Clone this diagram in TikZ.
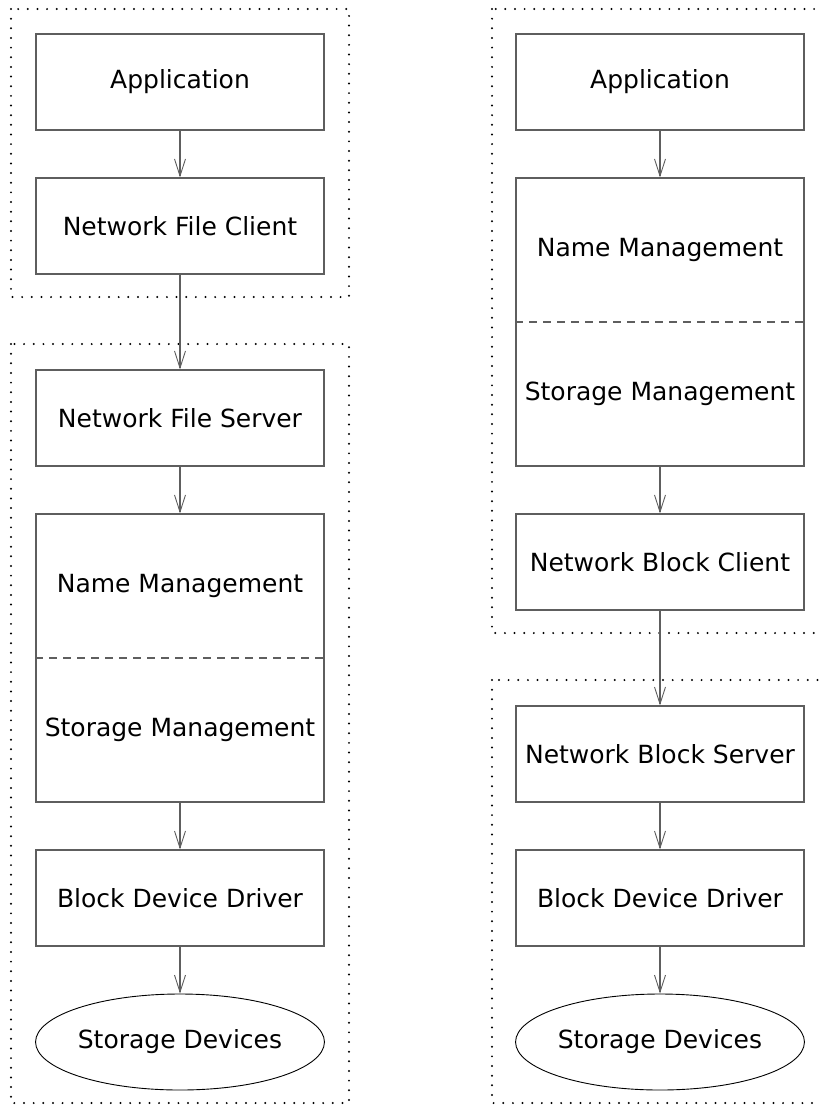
\documentclass[tikz,border=0pt]{standalone}
\usepackage{fontspec}
\setmainfont{DejaVu Sans}
\usetikzlibrary{arrows.meta,shapes.geometric}
\definecolor{linegray}{HTML}{5E5E5E}
\begin{document}
\begin{tikzpicture}[x=1pt,y=-1pt,
  lbl/.style={font=\fontsize{25}{30}\selectfont, inner sep=0pt},
  box/.style={lbl, draw=linegray, line width=1.1pt, minimum width=288pt, minimum height=96pt},
  tallbox/.style={draw=linegray, line width=1.1pt, minimum width=288pt, minimum height=288pt, inner sep=0pt},
  store/.style={lbl, ellipse, draw=black, line width=0.9pt, minimum width=288pt, minimum height=96pt},
  arr/.style={draw=linegray, line width=1.1pt, -{Straight Barb[length=17pt,width=11pt,line width=0.9pt]}},
  frame/.style={line width=2.2pt, line cap=round, dash pattern=on 0pt off 9.65pt},
  sep/.style={draw=linegray, line width=1.1pt, dash pattern=on 8pt off 6pt}]
\useasboundingbox (0,0) rectangle (819,1114);
% frames
\draw[frame] (11,9) rectangle (349,297);
\draw[frame] (11,344) rectangle (349,1103);
\draw[frame] (492,9) rectangle (830,633);
\draw[frame] (492,680) rectangle (830,1103);
% left column
\node[box] (appL) at (180,82) {Application};
\node[box] (nfc) at (180,226) {Network File Client};
\node[box] (nfs) at (180,418) {Network File Server};
\node[tallbox] (fsL) at (180,658) {};
\node[lbl] (nmL) at (180,586) {Name Management};
\node[lbl] (smL) at (180,730) {Storage Management};
\draw[sep] (fsL.west) -- (fsL.east);
\node[box] (bddL) at (180,898) {Block Device Driver};
\node[store] (sdL) at (180,1042) {Storage Devices};
\draw[arr] (appL.south) -- (nfc.north);
\draw[arr] (nfc.south) -- (nfs.north);
\draw[arr] (nfs.south) -- (fsL.north);
\draw[arr] (fsL.south) -- (bddL.north);
\draw[arr] (bddL.south) -- (sdL.north);
% right column
\node[box] (appR) at (660,82) {Application};
\node[tallbox] (fsR) at (660,322) {};
\node[lbl] (nmR) at (660,250) {Name Management};
\node[lbl] (smR) at (660,394) {Storage Management};
\draw[sep] (fsR.west) -- (fsR.east);
\node[box] (nbc) at (660,562) {Network Block Client};
\node[box] (nbs) at (660,754) {Network Block Server};
\node[box] (bddR) at (660,898) {Block Device Driver};
\node[store] (sdR) at (660,1042) {Storage Devices};
\draw[arr] (appR.south) -- (fsR.north);
\draw[arr] (fsR.south) -- (nbc.north);
\draw[arr] (nbc.south) -- (nbs.north);
\draw[arr] (nbs.south) -- (bddR.north);
\draw[arr] (bddR.south) -- (sdR.north);
\end{tikzpicture}
\end{document}
